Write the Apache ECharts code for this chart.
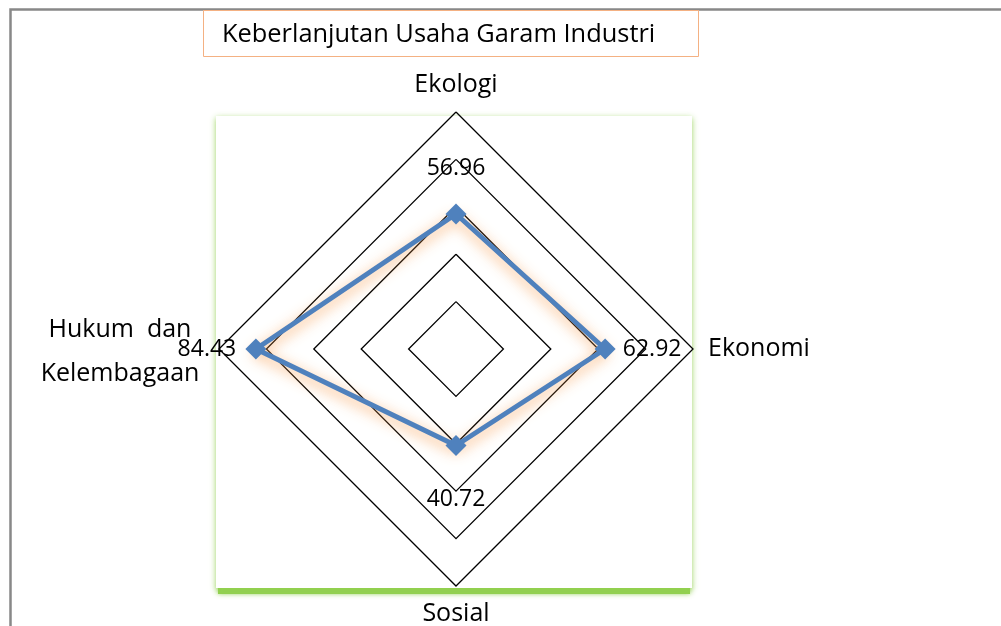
<!DOCTYPE html>
<html>
<head>
<meta charset="utf-8">
<script src="https://cdn.jsdelivr.net/npm/echarts@6/dist/echarts.min.js"></script>
<style>
html,body{margin:0;padding:0;background:#fff;}
#container{width:1001px;height:626px;}
</style>
</head>
<body>
<div id="container"></div>
<script>
var titleText = 'Keberlanjutan Usaha Garam Industri';
// indicators in ECharts order (counterclockwise from top)
var indicatorNames = ['Ekologi', 'Hukum dan Kelembagaan', 'Sosial', 'Ekonomi'];
var indicatorMax = [100, 100, 100, 100];
var seriesValues = [56.96, 84.43, 40.72, 62.92];
var labelRich = ['up', 'lf', 'dn', 'rt'];

var dom = document.querySelector('#container');
var myChart = echarts.init(dom);
var font = '"Open Sans", "Noto Sans", sans-serif';

var option = {
    animation: false,
    backgroundColor: '#fff',
    graphic: [
        {
            type: 'polyline', z: 1,
            shape: {points: [[10.5, 626], [10.5, 9.5], [1001, 9.5]]},
            style: {stroke: '#888', lineWidth: 2.5, fill: null}
        },
        {
            type: 'rect', z: 0,
            shape: {x: 218, y: 584, width: 472, height: 10},
            style: {fill: '#92d050', shadowColor: 'rgba(146,208,80,0.8)', shadowBlur: 5}
        },
        {
            type: 'rect', z: 0,
            shape: {x: 216, y: 116, width: 476, height: 472},
            style: {fill: '#fff',
                shadowColor: 'rgba(146,208,80,0.9)', shadowBlur: 6, shadowOffsetY: 2}
        },
        {
            type: 'rect', z: 1,
            shape: {x: 203.5, y: 10.5, width: 495, height: 46},
            style: {fill: '#fff', stroke: '#f4b183', lineWidth: 1}
        },
        {
            type: 'text', z: 2, left: 222, top: 22,
            style: {text: titleText, font: '25.4px ' + font, fill: '#000'}
        }
    ],
    radar: {
        center: [456, 349],
        radius: 237,
        startAngle: 90,
        shape: 'polygon',
        splitNumber: 5,
        nameGap: 15,
        indicator: indicatorNames.map(function (n, i) {
            return {name: n, max: indicatorMax[i], min: 0};
        }),
        axisName: {
            color: '#000',
            fontSize: 25,
            fontFamily: font,
            formatter: function (name) {
                if (name.indexOf('Hukum') === 0) {
                    return '{h|Hukum  dan}\n{h|Kelembagaan}';
                }
                return name;
            },
            rich: {
                h: {fontSize: 25, fontFamily: font, color: '#000', width: 168, align: 'center',
                    lineHeight: 44, padding: [6, 0, 0, 0]}
            }
        },
        axisLine: {show: false},
        splitArea: {show: false},
        splitLine: {lineStyle: {color: '#000', width: 1.3}}
    },
    series: [{
        type: 'radar',
        symbol: 'diamond',
        symbolSize: 21,
        itemStyle: {color: '#4f81bd'},
        lineStyle: {
            color: '#4f81bd', width: 5,
            shadowColor: 'rgba(247,150,70,0.85)', shadowBlur: 14, shadowOffsetY: 4
        },
        label: {
            show: true,
            position: 'inside',
            formatter: function (p) {
                var i = p.dimensionIndex;
                if (i == null) i = seriesValues.indexOf(p.value);
                return '{' + labelRich[i] + '|' + seriesValues[i].toFixed(2) + '}';
            },
            rich: {
                up: {fontSize: 23, fontFamily: font, color: '#000', padding: [0, 0, 92, 0]},
                dn: {fontSize: 23, fontFamily: font, color: '#000', padding: [108, 0, 0, 0]},
                lf: {fontSize: 23, fontFamily: font, color: '#000', padding: [0, 98, 0, 0]},
                rt: {fontSize: 23, fontFamily: font, color: '#000', padding: [0, 0, 0, 94]}
            }
        },
        data: [{value: seriesValues}]
    }]
};
myChart.setOption(option);
</script>
</body>
</html>
